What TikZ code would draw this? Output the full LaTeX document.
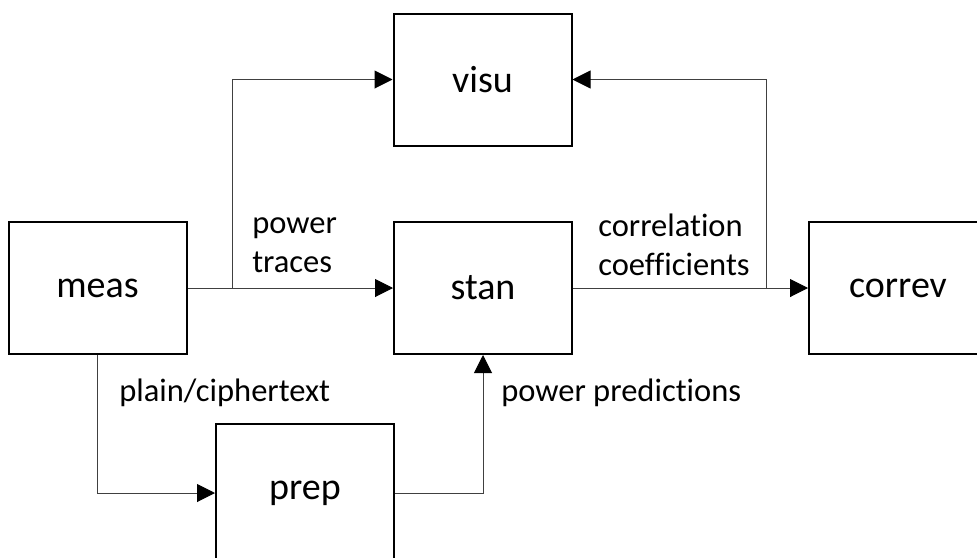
\documentclass[tikz,border=0pt]{standalone}
\usepackage{fontspec}
\setmainfont{Carlito}[Ligatures=NoCommon]
\usetikzlibrary{arrows.meta}
\begin{document}
\begin{tikzpicture}[x=0.75pt,y=-0.75pt,
  block/.style={draw=black,line width=1.5pt,minimum width=133.5pt,minimum height=99pt,inner sep=0pt,
    font=\fontsize{28.5}{34}\selectfont},
  conn/.style={draw=black!75,line width=0.75pt,-{Triangle[length=13.5pt,width=13.5pt,color=black]}},
  lbl/.style={font=\fontsize{24.4}{29.25}\selectfont,align=left,inner sep=0pt}]
\useasboundingbox (0,0) rectangle (977,557);
\clip (0,0) rectangle (977,557);
\node[block] (meas) at (97.5,288) {meas};
\node[block] (stan) at (483,288) {stan};
\node[block] (visu) at (482.5,79.5) {visu};
\node[block] (correv) at (898,288) {correv};
\node[block,minimum height=103pt] (prep) at (305,493) {prep};
\coordinate (b1) at (232,288);
\coordinate (b2) at (766,288);
\draw[conn] (meas.east) -- (stan.west);
\draw[conn] (b1) |- (visu.west);
\draw[conn] (stan.east) -- (correv.west);
\draw[conn] (b2) |- (visu.east);
\draw[conn] (meas.south) |- (prep.west);
\draw[conn] (prep.east) -| (stan.south);
\node[lbl,anchor=west] (l1) at (252,245) {power\\traces};
\node[lbl,anchor=west] (l2) at (598,245) {correlation\\coefficients};
\node[lbl,anchor=base west] (l3) at (119,401) {plain/ciphertext};
\node[lbl,anchor=base west] (l4) at (501,401) {power predictions};
\end{tikzpicture}
\end{document}
